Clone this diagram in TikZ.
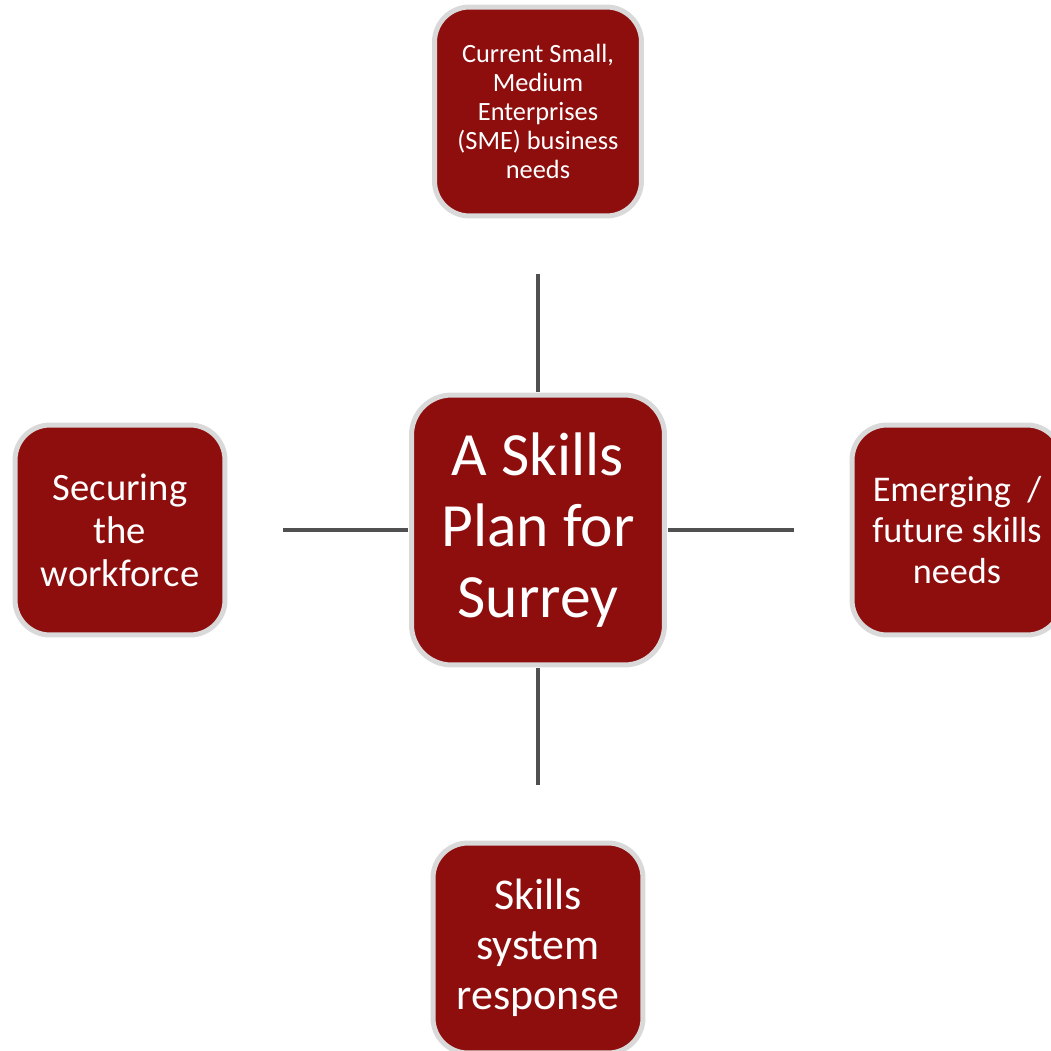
\documentclass[tikz,border=0pt]{standalone}
\usepackage{fontspec}
\setmainfont{Carlito}
\usepackage{tikz}

\definecolor{boxred}{RGB}{142,14,14}
\definecolor{boxrim}{RGB}{217,217,217}
\definecolor{linkgray}{RGB}{80,80,80}

\begin{document}
\begin{tikzpicture}[x=0.02cm, y=-0.02cm,
  box/.style={draw=boxrim, line width=0.1cm, fill=boxred, text=white, align=center,
    rounded corners=0.7cm, minimum width=4.2cm, minimum height=4.2cm, inner sep=0pt},
  link/.style={draw=linkgray, line width=0.09cm, shorten >=1.12cm, shorten <=0.02cm}]

\useasboundingbox (0,0) rectangle (1051,1051);

\node[box, minimum width=5.06cm, minimum height=5.4cm, rounded corners=0.8cm,
  font=\fontsize{35}{40.2}\selectfont] (plan) at (538,530) {A Skills\\Plan for\\Surrey};

\node[box, minimum width=4.14cm, minimum height=4.18cm, font=\fontsize{15}{16.4}\selectfont]
  (sme) at (538,111.5) {Current Small,\\Medium\\Enterprises\\(SME) business\\needs};
\node[box, font=\fontsize{22}{24.4}\selectfont] (workforce) at (120,530) {Securing\\the\\workforce};
\node[box, font=\fontsize{20.6}{23.2}\selectfont] (emerging) at (957,530) {Emerging~ /\\future skills\\needs};
\node[box, font=\fontsize{25}{28.3}\selectfont] (response) at (538,948) {Skills\\system\\response};

\draw[link] (plan) -- (sme);
\draw[link] (plan) -- (workforce);
\draw[link] (plan) -- (emerging);
\draw[link] (plan) -- (response);
\end{tikzpicture}
\end{document}
